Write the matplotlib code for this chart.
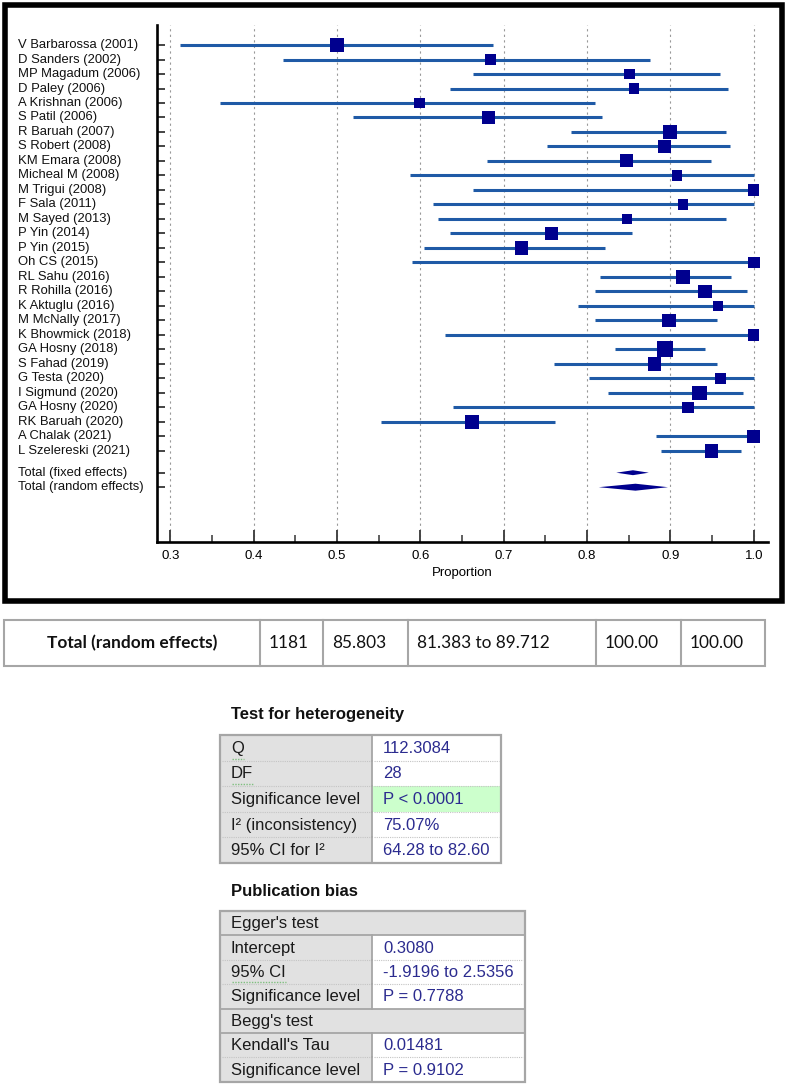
import numpy as np
import matplotlib
matplotlib.use("Agg")
import matplotlib.pyplot as plt
from matplotlib.patches import Rectangle, Polygon
from matplotlib import transforms

# forest plot data (proportion, 95% CI)
studies = ["V Barbarossa (2001)", "D Sanders (2002)", "MP Magadum (2006)", "D Paley (2006)",
           "A Krishnan (2006)", "S Patil (2006)", "R Baruah (2007)", "S Robert (2008)",
           "KM Emara (2008)", "Micheal M (2008)", "M Trigui (2008)", "F Sala (2011)",
           "M Sayed (2013)", "P Yin (2014)", "P Yin (2015)", "Oh CS (2015)", "RL Sahu (2016)",
           "R Rohilla (2016)", "K Aktuglu (2016)", "M McNally (2017)", "K Bhowmick (2018)",
           "GA Hosny (2018)", "S Fahad (2019)", "G Testa (2020)", "I Sigmund (2020)",
           "GA Hosny (2020)", "RK Baruah (2020)", "A Chalak (2021)", "L Szelereski (2021)"]
est = [0.500, 0.684, 0.851, 0.856, 0.599, 0.682, 0.899, 0.893, 0.847, 0.908, 1.000, 0.915,
       0.848, 0.757, 0.721, 1.000, 0.915, 0.941, 0.957, 0.898, 1.000, 0.894, 0.881, 0.960,
       0.935, 0.921, 0.662, 1.000, 0.949]
ci_low = [0.311, 0.435, 0.663, 0.636, 0.360, 0.519, 0.781, 0.752, 0.680, 0.587, 0.663, 0.615,
          0.621, 0.636, 0.604, 0.590, 0.816, 0.809, 0.789, 0.810, 0.630, 0.834, 0.760, 0.802,
          0.825, 0.639, 0.553, 0.883, 0.889]
ci_high = [0.687, 0.875, 0.959, 0.969, 0.810, 0.818, 0.967, 0.971, 0.949, 1.000, 1.000, 1.000,
           0.967, 0.854, 0.822, 1.000, 0.973, 0.992, 1.000, 0.956, 1.000, 0.941, 0.956, 1.000,
           0.987, 1.000, 0.762, 1.000, 0.985]
# relative weights (%)
weights = [3.92, 2.54, 2.54, 2.22, 2.54, 3.57, 4.34, 3.75, 3.75, 2.54, 2.83, 2.54, 2.54, 3.92,
           3.92, 3.03, 4.34, 4.16, 2.54, 4.16, 2.83, 5.67, 3.92, 2.35, 4.53, 2.83, 4.34, 3.92, 3.92]

totals = ["Total (fixed effects)", "Total (random effects)"]
total_est = [0.855, 0.858]
total_low = [0.835, 0.814]
total_high = [0.874, 0.897]

summary_row = ["Total (random effects)", "1181", "85.803", "81.383 to 89.712", "100.00", "100.00"]

het_labels = ["Q", "DF", "Significance level", "I\u00b2 (inconsistency)", "95% CI for I\u00b2"]
het_values = ["112.3084", "28", "P < 0.0001", "75.07%", "64.28 to 82.60"]

egger_labels = ["Intercept", "95% CI", "Significance level"]
egger_values = ["0.3080", "-1.9196 to 2.5356", "P = 0.7788"]
begg_labels = ["Kendall's Tau", "Significance level"]
begg_values = ["0.01481", "P = 0.9102"]

W, H = 790, 1085
fig = plt.figure(figsize=(7.9, 10.85), dpi=100)
ov = fig.add_axes([0, 0, 1, 1])
ov.set_xlim(0, W)
ov.set_ylim(H, 0)
ov.axis("off")

ax = fig.add_axes([157 / W, 1 - 542 / H, (768 - 157) / W, (542 - 25) / H])
ax.set_facecolor("none")

n = len(studies)
ypos = np.arange(n)
total_y = [n + 0.5, n + 1.5]

line_col = "#1f5aa6"
box_col = "#00008e"

ax.hlines(ypos, ci_low, ci_high, color=line_col, lw=2.2, zorder=2)
side = 16 * np.sqrt(np.array(weights) / max(weights)) * 0.72
ax.scatter(est, ypos, s=side ** 2, marker="s", color=box_col, lw=0, zorder=3, clip_on=False)

dh = [0.17, 0.24]
for i in range(2):
    yy = total_y[i]
    ax.add_patch(Polygon([[total_low[i], yy], [total_est[i], yy - dh[i]],
                          [total_high[i], yy], [total_est[i], yy + dh[i]]],
                         closed=True, color=box_col, lw=0, zorder=3))

ax.set_xlim(0.284, 1.017)
ax.set_ylim(34.28, -1.38)
ax.set_xticks(np.arange(0.3, 1.01, 0.1))
ax.set_xticklabels([f"{v:.1f}" for v in np.arange(0.3, 1.01, 0.1)])
ax.set_xticks(np.arange(0.35, 1.0, 0.1), minor=True)
ax.set_yticks(list(ypos) + total_y)
ax.set_yticklabels([])
ax.tick_params(axis="x", which="major", direction="in", length=8.6, width=1.4, color="#444444",
               pad=5.5, labelsize=9.5)
ax.tick_params(axis="x", which="minor", direction="in", length=5, width=1.2, color="#444444")
ax.tick_params(axis="y", direction="in", length=5.8, width=1.4, color="#444444")
for lab in ax.get_xticklabels():
    lab.set_fontfamily("Liberation Sans")
ax.grid(axis="x", which="major", ls=(0, (2, 3)), color="#999999", lw=0.8)
ax.set_axisbelow(True)
for s in ["top", "right"]:
    ax.spines[s].set_visible(False)
for s in ["left", "bottom"]:
    ax.spines[s].set_linewidth(1.9)
ax.set_xlabel("Proportion", fontsize=9.5, labelpad=4, family="Liberation Sans")

# study labels, left aligned
lab_tr = transforms.blended_transform_factory(ov.transData, ax.transData)
for name, yy in zip(studies + totals, list(ypos) + total_y):
    fig.text(18, yy, name, transform=lab_tr, ha="left", va="center", fontsize=9.4,
             family="Liberation Sans", color="#111111")

# thick frame around the plot
ov.add_patch(Rectangle((4.5, 4.5), 777, 596, fill=False, ec="black", lw=4))

# summary row table
edge = "#a6a6a6"
cols = [4, 260, 323, 408, 596, 681, 765]
ov.add_patch(Rectangle((cols[0], 620), cols[-1] - cols[0], 46, fill=False, ec=edge, lw=1.5))
for c in cols[1:-1]:
    ov.plot([c, c], [620, 666], color=edge, lw=1.5)
ov.text((cols[0] + cols[1]) / 2, 643, summary_row[0], ha="center", va="center", fontsize=12.4,
        fontweight="bold", family="Lato", color="#111111")
for j, txt in enumerate(summary_row[1:]):
    ov.text(cols[j + 1] + 9, 643, txt, ha="left", va="center", fontsize=12.4, family="Lato",
            color="#111111")


def stat_table(top, row_h, x1, rows):
    x0, xs = 220, 372
    for i, (label, value) in enumerate(rows):
        y = top + i * row_h
        if value is None:
            ov.add_patch(Rectangle((x0, y), x1 - x0, row_h, fc="#e1e1e1", ec="none"))
            ov.plot([x0, x1], [y, y], color=edge, lw=1.3)
            ov.plot([x0, x1], [y + row_h, y + row_h], color=edge, lw=1.3)
        else:
            ov.add_patch(Rectangle((x0, y), xs - x0, row_h, fc="#e1e1e1", ec="none"))
            fc = "#ccffcc" if value.startswith("P <") else "white"
            ov.add_patch(Rectangle((xs, y), x1 - xs, row_h, fc=fc, ec="none"))
            ov.plot([xs, xs], [y, y + row_h], color=edge, lw=1.3)
            if i > 0 and rows[i - 1][1] is not None:
                ov.plot([x0 + 2, xs - 2], [y, y], color="#c4c4c4", lw=0.8, ls=(0, (1, 1)))
                ov.plot([xs + 2, x1 - 2], [y, y], color="#c4c4c4", lw=0.8, ls=(0, (1, 1)))
            ov.text(xs + 11, y + row_h / 2 + 0.5, value, ha="left", va="center", fontsize=12,
                    family="Liberation Sans", color="#2b2b8f")
        ov.text(x0 + 11, y + row_h / 2 + 0.5, label, ha="left", va="center", fontsize=12,
                family="Liberation Sans", color="#1a1a1a")
    ov.add_patch(Rectangle((x0, top), x1 - x0, row_h * len(rows), fill=False, ec=edge, lw=1.6))


ov.text(231, 715, "Test for heterogeneity", ha="left", va="center", fontsize=12,
        fontweight="bold", family="Liberation Sans", color="#111111")
stat_table(735, 25.6, 501, list(zip(het_labels, het_values)))

ov.text(231, 891, "Publication bias", ha="left", va="center", fontsize=12,
        fontweight="bold", family="Liberation Sans", color="#111111")
pub_rows = [("Egger's test", None)] + list(zip(egger_labels, egger_values)) + \
           [("Begg's test", None)] + list(zip(begg_labels, begg_values))
stat_table(911, 24.4, 525, pub_rows)

# spell-check squiggles seen under a few labels
for xa, xb, yy in [(232, 244, 759), (232, 254, 784), (232, 286, 982)]:
    ov.plot([xa, xb], [yy, yy], color="#7fbf7f", lw=1, ls=(0, (1, 1)))

fig.savefig("out.png", dpi=100)
